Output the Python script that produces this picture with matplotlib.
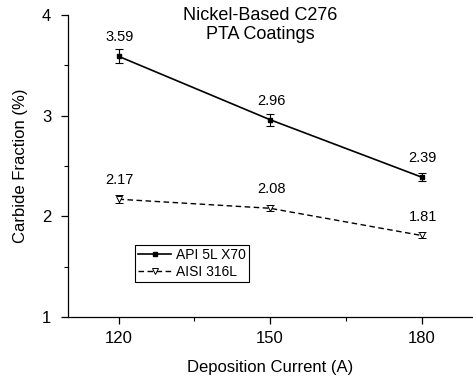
import matplotlib
matplotlib.use('Agg')
import matplotlib.pyplot as plt
from matplotlib.ticker import MultipleLocator
from matplotlib.lines import Line2D

plt.rcParams['font.family'] = ['Liberation Sans', 'DejaVu Sans']

# data
current = [120, 150, 180]
api_x70 = [3.59, 2.96, 2.39]
api_err = [0.07, 0.06, 0.04]
aisi_316l = [2.17, 2.08, 1.81]
aisi_err = [0.04, 0.03, 0.03]
series_names = ['API 5L X70', 'AISI 316L']

fig = plt.figure(figsize=(4.73, 3.76), dpi=100)
ax = fig.add_axes([68/473, 59/376, 404/473, 302/376])

api_style = dict(color='black', lw=1.2, marker='s', ms=3.5, mfc='black')
aisi_style = dict(color='black', lw=1.0, ls=(0, (4, 2.5)), marker='v', ms=4,
                  mfc='white', mew=0.7)

ax.errorbar(current, api_x70, yerr=api_err, capsize=3, elinewidth=0.8,
            capthick=0.8, **api_style)
ax.errorbar(current, aisi_316l, yerr=aisi_err, capsize=3, elinewidth=0.8,
            capthick=0.8, **aisi_style)

# value labels above each point
for xs, ys in [(current, api_x70), (current, aisi_316l)]:
    for xv, yv in zip(xs, ys):
        ax.annotate('%.2f' % yv, (xv, yv), xytext=(1, 8.5), textcoords='offset points',
                    ha='center', va='bottom', fontsize=10.5)

ax.set_xlim(110, 190)
ax.set_ylim(1, 4)
ax.xaxis.set_major_locator(MultipleLocator(30))
ax.xaxis.set_minor_locator(MultipleLocator(15))
ax.yaxis.set_major_locator(MultipleLocator(1))
ax.yaxis.set_minor_locator(MultipleLocator(0.5))
ax.tick_params(which='major', direction='out', length=5, width=0.9, labelsize=12)
ax.tick_params(axis='x', which='major', pad=5)
ax.tick_params(axis='y', which='major', pad=7)
ax.tick_params(which='minor', direction='out', length=3, width=0.8)

for side in ['top', 'right']:
    ax.spines[side].set_visible(False)
for side in ['left', 'bottom']:
    ax.spines[side].set_linewidth(0.9)

ax.set_xlabel('Deposition Current (A)', fontsize=12, labelpad=10)
ax.set_ylabel('Carbide Fraction (%)', fontsize=12, labelpad=10)

ax.text(0.475, 1.025, 'Nickel-Based C276\nPTA Coatings', transform=ax.transAxes,
        ha='center', va='top', fontsize=13, linespacing=1.1)

handles = [Line2D([], [], **api_style), Line2D([], [], **aisi_style)]
leg = ax.legend(handles, series_names, loc='lower left', bbox_to_anchor=(0.165, 0.115),
                fontsize=10, frameon=True, fancybox=False, edgecolor='black',
                framealpha=1, handlelength=2.4, handletextpad=0.3, borderpad=0.25,
                labelspacing=0.2, borderaxespad=0)
leg.get_frame().set_linewidth(0.8)

fig.savefig('out.png', dpi=100)
